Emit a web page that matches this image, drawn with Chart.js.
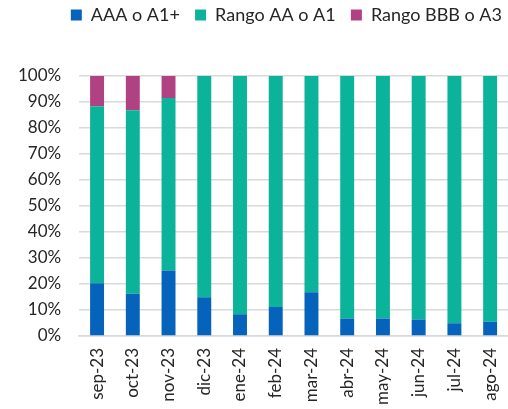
<!DOCTYPE html>
<html>
<head>
<meta charset="utf-8">
<script src="https://cdn.jsdelivr.net/npm/chart.js@4"></script>
<style>
  html, body { margin: 0; padding: 0; background: #fff; }
  #wrap { width: 508px; height: 409px; }
</style>
</head>
<body>
<div id="wrap"><canvas id="chart"></canvas></div>
<script>
// Months on the x axis
const months = ['sep-23', 'oct-23', 'nov-23', 'dic-23', 'ene-24', 'feb-24',
                'mar-24', 'abr-24', 'may-24', 'jun-24', 'jul-24', 'ago-24'];

// Share of each rating band (percent)
const aaaA1plus = [20.3, 16.2, 25.2, 14.9, 8.4, 11.1, 16.8, 6.7, 6.7, 6.3, 4.9, 5.5];
const rangoAA   = [68.1, 70.6, 66.3, 85.1, 91.6, 88.9, 83.2, 93.3, 93.3, 93.7, 95.1, 94.5];
const rangoBBB  = [11.6, 13.2, 8.5, 0, 0, 0, 0, 0, 0, 0, 0, 0];

const seriesNames = ['AAA o A1+', 'Rango AA o A1', 'Rango BBB o A3'];

Chart.defaults.font.family = 'Lato, "Open Sans", sans-serif';
Chart.defaults.color = '#262626';

// push the plot down a bit below the legend
const legendGap = {
    id: 'legendGap',
    beforeInit(chart) {
        const fit = chart.legend.fit;
        chart.legend.fit = function () {
            fit.call(this);
            this.height += 42;
        };
    }
};

const ctx = document.getElementById('chart').getContext('2d');
new Chart(ctx, {
    type: 'bar',
    data: {
        labels: months,
        datasets: [
            { label: seriesNames[0], data: aaaA1plus, backgroundColor: '#0563BB' },
            { label: seriesNames[1], data: rangoAA, backgroundColor: '#0BB39A' },
            { label: seriesNames[2], data: rangoBBB, backgroundColor: '#B04283' }
        ]
    },
    options: {
        responsive: true,
        maintainAspectRatio: false,
        animation: false,
        datasets: {
            bar: { barPercentage: 0.39, categoryPercentage: 1.0 }
        },
        layout: { padding: 0 },
        plugins: {
            legend: {
                position: 'top',
                align: 'end',
                labels: {
                    boxWidth: 11,
                    boxHeight: 11,
                    padding: 6,
                    font: { size: 18 },
                    color: '#262626',
                    // a little extra room after the first two entries
                    generateLabels(chart) {
                        const items = Chart.defaults.plugins.legend.labels.generateLabels(chart);
                        items.forEach((it, i) => { if (i < items.length - 1) it.text += '  '; });
                        return items;
                    }
                }
            },
            tooltip: { enabled: false }
        },
        scales: {
            x: {
                stacked: true,
                grid: { display: false },
                border: { color: '#d9d9d9', width: 1.5 },
                ticks: {
                    maxRotation: 90,
                    minRotation: 90,
                    autoSkip: false,
                    padding: 4,
                    font: { size: 17 }
                },
                afterFit(scale) {
                    scale.paddingRight = 0;
                    scale.paddingLeft = 0;
                }
            },
            y: {
                stacked: true,
                min: 0,
                max: 100,
                border: { display: false },
                grid: { color: '#d9d9d9', lineWidth: 1.5, drawTicks: false },
                ticks: {
                    stepSize: 10,
                    padding: 18,
                    font: { size: 17 },
                    callback: v => v + '%'
                }
            }
        }
    },
    plugins: [legendGap]
});
</script>
</body>
</html>
